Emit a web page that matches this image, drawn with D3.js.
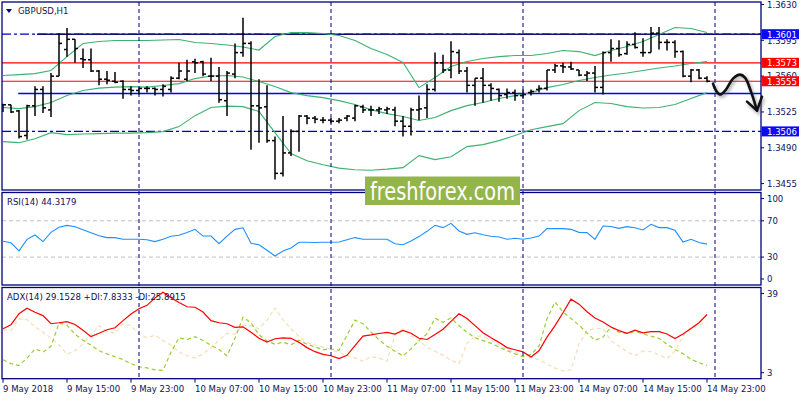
<!DOCTYPE html>
<html>
<head>
<meta charset="utf-8">
<script src="https://cdn.jsdelivr.net/npm/d3@7"></script>
<style>
  body { margin: 0; background: #fff; }
  text { font-family: "DejaVu Sans Condensed", "DejaVu Sans", sans-serif; font-stretch: condensed; }
</style>
</head>
<body>
<script>
// ---- data (9 May 07:00 .. 14 May 23:00) ----
var timeLabels = ["9 May 2018", "9 May 15:00", "9 May 23:00", "10 May 07:00", "10 May 15:00", "10 May 23:00",
                  "11 May 07:00", "11 May 15:00", "11 May 23:00", "14 May 07:00", "14 May 15:00", "14 May 23:00"];
var timeIdx = [0, 8, 16, 24, 32, 40, 48, 56, 64, 72, 80, 88];
var sepIdx = [17, 41, 65, 89]; // midnight bars

var open = [1.3532,1.3532,1.3526,1.3502,1.3531,1.3547,1.3527,1.3560,1.3586,1.3596,
            1.3577,1.3576,1.3565,1.3557,1.3555,1.3555,1.3547,1.3546,1.3548,1.3548,
            1.3547,1.3547,1.3558,1.3557,1.3574,1.3574,1.3560,1.3560,1.3536,1.3562,
            1.3583,1.3592,1.3531,1.3530,1.3497,1.3465,1.3485,1.3506,1.3521,1.3519,
            1.3517,1.3517,1.3516,1.3519,1.3519,1.3530,1.3527,1.3527,1.3527,1.3527,
            1.3516,1.3511,1.3527,1.3529,1.3547,1.3573,1.3566,1.3583,1.3565,1.3551,
            1.3558,1.3551,1.3547,1.3542,1.3544,1.3541,1.3544,1.3547,1.3548,1.3566,
            1.3570,1.3569,1.3566,1.3561,1.3563,1.3549,1.3583,1.3587,1.3582,1.3591,
            1.3583,1.3583,1.3602,1.3593,1.3593,1.3584,1.3560,1.3566,1.3558];
var high = [1.3533,1.3532,1.3527,1.3532,1.3550,1.3550,1.3563,1.3602,1.3607,1.3596,
            1.3587,1.3587,1.3566,1.3565,1.3564,1.3556,1.3550,1.3549,1.3550,1.3549,
            1.3552,1.3560,1.3573,1.3576,1.3577,1.3575,1.3578,1.3569,1.3565,1.3592,
            1.3617,1.3594,1.3557,1.3551,1.3501,1.3521,1.3508,1.3522,1.3522,1.3521,
            1.3520,1.3519,1.3519,1.3522,1.3532,1.3532,1.3531,1.3530,1.3530,1.3530,
            1.3521,1.3529,1.3541,1.3552,1.3583,1.3581,1.3594,1.3586,1.3569,1.3558,
            1.3568,1.3553,1.3548,1.3548,1.3547,1.3547,1.3547,1.3551,1.3566,1.3572,
            1.3573,1.3574,1.3566,1.3565,1.3570,1.3584,1.3596,1.3595,1.3594,1.3603,
            1.3597,1.3608,1.3608,1.3596,1.3595,1.3585,1.3567,1.3567,1.3560];
var low = [1.3525,1.3524,1.3499,1.3498,1.3521,1.3524,1.3520,1.3560,1.3579,1.3573,
           1.3568,1.3564,1.3551,1.3552,1.3553,1.3538,1.3541,1.3542,1.3544,1.3541,
           1.3540,1.3544,1.3557,1.3555,1.3563,1.3560,1.3555,1.3534,1.3521,1.3558,
           1.3579,1.3488,1.3495,1.3495,1.3459,1.3462,1.3482,1.3486,1.3513,1.3514,
           1.3514,1.3514,1.3514,1.3516,1.3516,1.3524,1.3521,1.3523,1.3523,1.3511,
           1.3501,1.3502,1.3517,1.3519,1.3545,1.3563,1.3558,1.3562,1.3544,1.3531,
           1.3534,1.3536,1.3535,1.3538,1.3536,1.3538,1.3541,1.3544,1.3546,1.3563,
           1.3563,1.3566,1.3560,1.3555,1.3544,1.3542,1.3574,1.3579,1.3581,1.3587,
           1.3579,1.3583,1.3586,1.3585,1.3578,1.3559,1.3554,1.3557,1.3554];
var close = [1.3532,1.3525,1.3501,1.3531,1.3547,1.3529,1.3560,1.3592,1.3596,1.3587,
             1.3576,1.3565,1.3557,1.3556,1.3554,1.3547,1.3546,1.3548,1.3548,1.3547,
             1.3550,1.3558,1.3565,1.3565,1.3573,1.3562,1.3560,1.3537,1.3563,1.3583,
             1.3592,1.3531,1.3529,1.3497,1.3465,1.3485,1.3506,1.3521,1.3519,1.3518,
             1.3517,1.3516,1.3517,1.3521,1.3531,1.3527,1.3527,1.3528,1.3528,1.3516,
             1.3511,1.3527,1.3528,1.3547,1.3573,1.3566,1.3584,1.3565,1.3551,1.3558,
             1.3551,1.3548,1.3541,1.3544,1.3541,1.3542,1.3545,1.3548,1.3566,1.3570,
             1.3569,1.3567,1.3561,1.3563,1.3549,1.3583,1.3587,1.3581,1.3591,1.3588,
             1.3583,1.3602,1.3593,1.3593,1.3584,1.3560,1.3566,1.3558,1.3555];

// Bollinger bands, read at every second bar
var bbIdx = d3.range(0, 89, 2);
var bbUpper = [1.35606,1.35615,1.35625,1.35655,1.35791,1.35919,1.35938,1.35948,1.35948,1.35948,
               1.35953,1.35958,1.35928,1.35919,1.35904,1.35884,1.35855,1.35987,1.36026,1.36026,
               1.36016,1.35997,1.35948,1.35870,1.35811,1.35733,1.35488,1.35586,1.35694,1.35743,
               1.35772,1.35791,1.35801,1.35801,1.35821,1.35850,1.35840,1.35801,1.35850,1.35889,
               1.35938,1.36007,1.36075,1.36065,1.36026];
var bbMiddle = [1.35293,1.35283,1.35302,1.35342,1.35410,1.35459,1.35483,1.35493,1.35498,1.35493,
                1.35508,1.35527,1.35576,1.35601,1.35606,1.35591,1.35547,1.35498,1.35439,1.35410,
                1.35390,1.35361,1.35322,1.35273,1.35234,1.35205,1.35166,1.35195,1.35263,1.35312,
                1.35342,1.35381,1.35410,1.35439,1.35488,1.35518,1.35557,1.35586,1.35611,1.35630,
                1.35655,1.35679,1.35699,1.35723,1.35743];
var bbLower = [1.34960,1.34950,1.34989,1.35048,1.35029,1.35034,1.35038,1.35043,1.35043,1.35048,
               1.35058,1.35107,1.35214,1.35293,1.35307,1.35302,1.35254,1.35048,1.34843,1.34774,
               1.34735,1.34701,1.34686,1.34681,1.34691,1.34706,1.34823,1.34784,1.34813,1.34911,
               1.34931,1.34970,1.35019,1.35077,1.35107,1.35136,1.35263,1.35342,1.35332,1.35302,
               1.35288,1.35293,1.35322,1.35381,1.35439];

var rsi = [47.4,45.8,36.9,49.6,54.4,47.1,57.3,62.8,65.0,63.4,
           60.1,56.8,53.5,51.5,51.5,49.6,49.6,49.6,49.1,47.1,
           49.6,52.9,54.0,57.0,60.6,53.2,53.2,44.7,53.2,60.6,
           62.3,45.2,43.6,37.5,31.2,36.7,40.0,46.3,46.3,46.1,
           46.3,46.3,46.6,49.1,51.5,49.6,49.6,49.6,49.6,44.7,
           43.6,47.7,52.6,58.4,65.0,62.5,67.2,58.8,55.1,56.8,
           54.6,52.9,52.1,49.6,50.7,49.6,51.0,53.2,61.4,61.4,
           61.4,60.6,57.3,57.0,49.6,64.3,63.7,61.7,63.6,62.3,
           59.9,66.1,62.5,62.5,59.5,46.6,49.6,46.0,44.3179];
var adx = [23.2,24.9,29.5,31.8,30.1,28.7,25.3,25.7,26.2,25.0,
           22.6,19.9,21.3,22.8,23.6,26.6,29.4,31.6,33.0,36.1,
           38.5,36.2,34.2,32.4,32.2,30.2,26.6,25.7,25.3,23.8,
           24.0,21.7,19.2,17.6,19.0,19.4,19.2,17.5,15.3,13.6,
           12.5,11.9,10.7,12.1,16.1,20.1,20.6,21.2,21.7,21.0,
           22.5,21.3,19.2,18.7,20.8,23.0,26.3,29.5,27.5,24.5,
           21.5,19.4,17.5,15.3,14.4,13.5,11.4,14.0,19.7,24.5,
           29.9,35.6,33.5,30.3,27.7,26.0,23.9,22.4,21.3,22.6,
           21.5,22.0,22.0,21.0,19.1,21.0,23.3,25.7,29.1528];
var plusDI = [10.2,8.6,7.8,10.9,14.8,13.4,15.9,25.6,24.7,20.9,
              18.4,16.3,14.0,12.7,11.5,10.3,8.6,7.3,6.8,6.0,
              5.8,13.4,19.4,18.7,19.9,18.3,16.3,14.5,11.9,19.2,
              28.0,25.7,20.7,18.1,16.7,17.6,16.5,18.4,16.7,15.6,
              14.5,14.7,14.2,20.5,26.8,25.3,21.8,18.6,15.9,13.8,
              11.8,14.8,18.3,21.1,27.6,25.9,27.7,24.5,21.7,19.4,
              18.2,17.1,15.5,14.0,12.7,11.5,12.5,15.9,27.4,34.4,
              30.2,27.5,24.7,21.4,18.4,19.7,24.0,21.7,21.3,22.0,
              21.1,20.1,19.2,16.7,14.5,12.8,10.4,9.0,7.8333];
var minusDI = [22.7,22.6,27.4,27.0,24.0,21.7,19.3,16.5,12.5,14.0,
               16.9,20.5,24.5,22.1,21.3,25.3,24.5,20.9,19.4,20.5,
               18.2,16.3,13.4,11.9,10.9,12.7,15.3,18.4,21.3,20.9,
               24.7,24.5,23.2,26.8,31.9,27.0,23.2,19.9,17.4,16.4,
               15.5,14.6,13.2,11.9,11.0,9.6,11.5,10.9,9.6,20.8,
               23.1,20.3,18.2,15.5,13.8,12.1,10.0,8.6,17.1,20.1,
               20.1,18.4,16.3,14.6,13.4,11.6,11.2,10.2,8.4,6.7,
               5.6,6.0,16.9,22.2,23.3,23.2,18.2,15.9,13.6,11.9,
               13.8,13.6,12.3,10.7,13.8,20.1,24.0,24.7,25.8915];

var priceTicks = [1.3630, 1.3595, 1.3560, 1.3525, 1.3490, 1.3455];
var rsiTicks = [100, 70, 30, 0];
var rsiLevels = [70, 30];
var adxTicks = [39, 3];

// analyst markup
var levelPrices = [1.3601, 1.3573, 1.3555, 1.3506];
var levelKinds = ["blue", "red", "red", "blue"];
var trendPrices = [1.3601, 1.3543];
var trendStart = [4.25, 1.9];
var arrowIdx = [88.75, 89.12, 89.62, 90.37, 91.25, 92.12, 92.75, 93.5, 94.25];
var arrowPrice = [1.35527, 1.35459, 1.35420, 1.35469, 1.35576, 1.35615, 1.35586, 1.35449, 1.35263];
var arrowHeadIdx = [93.0, 94.25, 94.87];
var arrowHeadPrice = [1.35351, 1.35263, 1.35400];

// ---- layout ----
var W = 800, H = 400;
var left = 2, right = 761;
var main = {top: 2, bottom: 190};
var rsiP = {top: 192.5, bottom: 285};
var adxP = {top: 287.5, bottom: 378.7};
var navy = "#000080", txt = "#10105a";

var x = d3.scaleLinear().domain([0, 88]).range([3, 707]);
var yP = d3.scaleLinear().domain([1.3455, 1.3630]).range([183.6, 4.5]);
var yR = d3.scaleLinear().domain([0, 100]).range([284.3, 193.6]);
var yA = d3.scaleLinear().domain([3, 39]).range([377, 291]);

var svg = d3.select("body").append("svg").attr("width", W).attr("height", H);
var defs = svg.append("defs");
[["clipMain", main], ["clipRsi", rsiP], ["clipAdx", adxP]].forEach(function(c) {
    defs.append("clipPath").attr("id", c[0]).append("rect")
        .attr("x", left).attr("y", c[1].top).attr("width", right - left).attr("height", c[1].bottom - c[1].top);
});
defs.append("filter").attr("id", "shadow").attr("x", "-5%").attr("y", "-200%").attr("width", "110%").attr("height", "500%")
    .append("feGaussianBlur").attr("stdDeviation", 2.2);
defs.append("filter").attr("id", "ashadow").attr("x", "-30%").attr("y", "-30%").attr("width", "160%").attr("height", "160%")
    .append("feGaussianBlur").attr("stdDeviation", 1.8);

svg.append("rect").attr("width", W).attr("height", H).attr("fill", "#fff");

var gMain = svg.append("g").attr("clip-path", "url(#clipMain)");
var gRsi = svg.append("g").attr("clip-path", "url(#clipRsi)");
var gAdx = svg.append("g").attr("clip-path", "url(#clipAdx)");

// day separators across all panels
svg.append("g").selectAll("line").data(sepIdx).enter().append("line")
    .attr("x1", function(d) { return x(d); }).attr("x2", function(d) { return x(d); })
    .attr("y1", main.top).attr("y2", adxP.bottom)
    .attr("stroke", navy).attr("stroke-width", 1).attr("stroke-dasharray", "4,3");

// level lines
gMain.selectAll(".lvl").data(levelPrices).enter().append("line")
    .attr("x1", left).attr("x2", right)
    .attr("y1", function(d) { return yP(d); }).attr("y2", function(d) { return yP(d); })
    .attr("stroke", function(d, i) { return levelKinds[i] == "red" ? "#ff0000" : "#0000c0"; })
    .attr("stroke-width", 1.2)
    .attr("stroke-dasharray", function(d, i) { return levelKinds[i] == "red" ? null : "9,3,3,3"; });

// hand drawn horizontal lines with shadow
trendPrices.forEach(function(p, i) {
    gMain.append("line")
        .attr("x1", x(trendStart[i])).attr("x2", right + 4)
        .attr("y1", yP(p) + 1.5).attr("y2", yP(p) + 1.5)
        .attr("stroke", "#707070").attr("stroke-width", 5).attr("opacity", 0.55)
        .attr("filter", "url(#shadow)");
    gMain.append("line")
        .attr("x1", x(trendStart[i])).attr("x2", right)
        .attr("y1", yP(p)).attr("y2", yP(p))
        .attr("stroke", i == 0 ? "#101070" : "#0000ff").attr("stroke-width", 1.5);
});

// bollinger bands
var bbLine = function(vals) {
    return d3.line().x(function(d, i) { return x(bbIdx[i]); }).y(function(d) { return yP(d); })(vals);
};
[bbUpper, bbMiddle, bbLower].forEach(function(v) {
    gMain.append("path").attr("d", bbLine(v)).attr("fill", "none")
        .attr("stroke", "#3cb371").attr("stroke-width", 1.1);
});

// OHLC bars
var bars = gMain.append("g").attr("stroke", "#000").attr("stroke-width", 1.5);
bars.selectAll(".hl").data(high).enter().append("line")
    .attr("x1", function(d, i) { return x(i); }).attr("x2", function(d, i) { return x(i); })
    .attr("y1", function(d) { return yP(d); }).attr("y2", function(d, i) { return yP(low[i]); });
bars.selectAll(".op").data(open).enter().append("line")
    .attr("x1", function(d, i) { return x(i) - 3; }).attr("x2", function(d, i) { return x(i); })
    .attr("y1", function(d) { return yP(d); }).attr("y2", function(d) { return yP(d); });
bars.selectAll(".cl").data(close).enter().append("line")
    .attr("x1", function(d, i) { return x(i); }).attr("x2", function(d, i) { return x(i) + 3; })
    .attr("y1", function(d) { return yP(d); }).attr("y2", function(d) { return yP(d); });

// RSI panel
gRsi.selectAll(".lv").data(rsiLevels).enter().append("line")
    .attr("x1", left).attr("x2", right)
    .attr("y1", function(d) { return yR(d); }).attr("y2", function(d) { return yR(d); })
    .attr("stroke", "#c0c0c0").attr("stroke-dasharray", "4,3");
gRsi.append("path")
    .attr("d", d3.line().x(function(d, i) { return x(i); }).y(function(d) { return yR(d); })(rsi))
    .attr("fill", "none").attr("stroke", "#1e90ff").attr("stroke-width", 1.1);

// ADX panel
var adxLine = d3.line().x(function(d, i) { return x(i); }).y(function(d) { return yA(d); });
gAdx.append("path").attr("d", adxLine(minusDI)).attr("fill", "none")
    .attr("stroke", "#f5deb3").attr("stroke-width", 1.2).attr("stroke-dasharray", "4,3");
gAdx.append("path").attr("d", adxLine(plusDI)).attr("fill", "none")
    .attr("stroke", "#9acd32").attr("stroke-width", 1.2).attr("stroke-dasharray", "4,3");
gAdx.append("path").attr("d", adxLine(adx)).attr("fill", "none")
    .attr("stroke", "#ff0000").attr("stroke-width", 1.2);

// panel frames
[main, rsiP, adxP].forEach(function(p) {
    svg.append("rect").attr("x", left).attr("y", p.top).attr("width", right - left).attr("height", p.bottom - p.top)
        .attr("fill", "none").attr("stroke", navy).attr("stroke-width", 1.3);
});

// price axis
var pAx = svg.append("g");
pAx.selectAll("line").data(priceTicks).enter().append("line")
    .attr("x1", right).attr("x2", right + 3)
    .attr("y1", function(d) { return yP(d); }).attr("y2", function(d) { return yP(d); })
    .attr("stroke", navy);
pAx.selectAll("text").data(priceTicks).enter().append("text")
    .attr("x", right + 6).attr("y", function(d) { return yP(d); }).attr("dy", "0.35em")
    .attr("font-size", 9.5).attr("fill", txt).text(function(d) { return d.toFixed(4); });

// level price boxes
var boxes = svg.append("g");
levelPrices.forEach(function(p, i) {
    boxes.append("rect").attr("x", right + 0.5).attr("y", yP(p) - 5).attr("width", 37.5).attr("height", 10)
        .attr("fill", levelKinds[i] == "red" ? "#ff0000" : "#0a0af5");
    boxes.append("text").attr("x", right + 6).attr("y", yP(p)).attr("dy", "0.36em")
        .attr("font-size", 9.5).attr("fill", "#fff").text(p.toFixed(4));
});

// side scales of the indicator panels
function sideLabels(ticks, sc, p) {
    var g = svg.append("g");
    ticks.forEach(function(v) {
        var yy = Math.max(p.top + 6, Math.min(p.bottom - 6, sc(v)));
        g.append("line").attr("x1", right).attr("x2", right + 3).attr("y1", yy).attr("y2", yy).attr("stroke", navy);
        g.append("text").attr("x", right + 6).attr("y", yy).attr("dy", "0.35em")
            .attr("font-size", 9.5).attr("fill", txt).text(v);
    });
}
sideLabels(rsiTicks, yR, rsiP);
sideLabels(adxTicks, yA, adxP);

// time axis
var tAx = svg.append("g");
tAx.selectAll("line").data(timeIdx).enter().append("line")
    .attr("x1", function(d) { return x(d); }).attr("x2", function(d) { return x(d); })
    .attr("y1", adxP.bottom).attr("y2", adxP.bottom + 4).attr("stroke", navy);
tAx.selectAll("text").data(timeIdx).enter().append("text")
    .attr("x", function(d) { return x(d); }).attr("y", 392)
    .attr("font-size", 9.5).attr("fill", txt).text(function(d, i) { return timeLabels[i]; });

// legends
svg.append("path").attr("d", "M6,9 L12,9 L9,13 Z").attr("fill", navy);
svg.append("text").attr("x", 18).attr("y", 14).attr("font-size", 9.5).attr("fill", "#1a1a40").text("GBPUSD,H1");
svg.append("text").attr("x", 7).attr("y", 205).attr("font-size", 9.5).attr("fill", txt)
    .text("RSI(14) " + rsi[rsi.length - 1].toFixed(4));
svg.append("text").attr("x", 7).attr("y", 300).attr("font-size", 9.5).attr("fill", txt)
    .text("ADX(14) " + adx[adx.length - 1].toFixed(4) + " +DI:" + plusDI[plusDI.length - 1].toFixed(4) +
          " -DI:" + minusDI[minusDI.length - 1].toFixed(4));

// forecast arrow with soft shadow
var arrowPts = arrowIdx.map(function(d, i) { return [x(d), yP(arrowPrice[i])]; });
var headPts = arrowHeadIdx.map(function(d, i) { return [x(d), yP(arrowHeadPrice[i])]; });
var arrowD = d3.line().curve(d3.curveCatmullRom)(arrowPts);
var headD = d3.line()(headPts);
var shadowG = svg.append("g").attr("transform", "translate(1.5,2)").attr("filter", "url(#ashadow)").attr("opacity", 0.45);
[arrowD, headD].forEach(function(d) {
    shadowG.append("path").attr("d", d).attr("fill", "none").attr("stroke", "#666").attr("stroke-width", 3.5);
});
[arrowD, headD].forEach(function(d) {
    svg.append("path").attr("d", d).attr("fill", "none").attr("stroke", "#111").attr("stroke-width", 2.6)
        .attr("stroke-linecap", "round").attr("stroke-linejoin", "round");
});

// watermark
svg.append("rect").attr("x", 365).attr("y", 176.5).attr("width", 155).attr("height", 28.5).attr("fill", "#94b54a");
svg.append("text").attr("x", 370).attr("y", 199.5).attr("font-size", 24)
    .attr("textLength", 145).attr("lengthAdjust", "spacingAndGlyphs")
    .style("font-family", "'DejaVu Sans', sans-serif").style("font-stretch", "normal")
    .attr("fill", "#fff").text("freshforex.com");
</script>
</body>
</html>
